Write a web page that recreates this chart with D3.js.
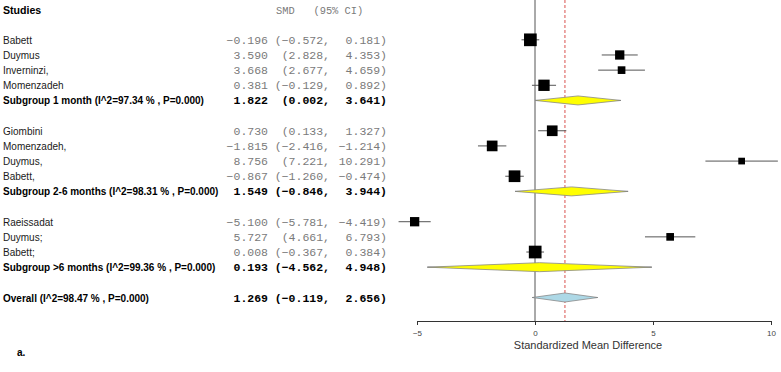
<!DOCTYPE html>
<html>
<head>
<meta charset="utf-8">
<script src="https://cdn.jsdelivr.net/npm/d3@7"></script>
<style>
  html, body { margin: 0; padding: 0; background: #fff; }
  svg { display: block; }
  .name { font-family: "Liberation Sans", Arial, sans-serif; font-size: 10px; fill: #1a1a1a; }
  .bold { font-weight: bold; fill: #000; }
  .num { font-family: "Liberation Mono", "Courier New", monospace; font-size: 11.5px; fill: #7a7a7a; }
  .num.sum { font-weight: bold; fill: #000; }
</style>
</head>
<body>
<div id="chart"></div>
<script>
// study-level results, one inner list per subgroup
const groupNames = ["1 month", "2-6 months", ">6 months"];
const studyNames = [
    ["Babett", "Duymus", "Inverninzi,", "Momenzadeh"],
    ["Giombini", "Momenzadeh,", "Duymus,", "Babett,"],
    ["Raeissadat", "Duymus;", "Babett;"]
];
const studySMD = [
    [-0.196, 3.590, 3.668, 0.381],
    [0.730, -1.815, 8.756, -0.867],
    [-5.100, 5.727, 0.008]
];
const studyLower = [
    [-0.572, 2.828, 2.677, -0.129],
    [0.133, -2.416, 7.221, -1.260],
    [-5.781, 4.661, -0.367]
];
const studyUpper = [
    [0.181, 4.353, 4.659, 0.892],
    [1.327, -1.214, 10.291, -0.474],
    [-4.419, 6.793, 0.384]
];
// approximate % weights (read from the square sizes)
const studyWeight = [
    [14.0, 7.5, 5.1, 11.1],
    [9.9, 9.9, 3.9, 11.9],
    [7.5, 5.1, 14.0]
];

// subgroup summaries
const subgroupI2 = ["97.34", "98.31", "99.36"];
const subgroupP = ["0.000", "0.000", "0.000"];
const subgroupSMD = [1.822, 1.549, 0.193];
const subgroupLower = [0.002, -0.846, -4.562];
const subgroupUpper = [3.641, 3.944, 4.948];

// overall summary
const overallI2 = "98.47";
const overallP = "0.000";
const overallSMD = 1.269;
const overallLower = -0.119;
const overallUpper = 2.656;

const xTicks = [-5, 0, 5, 10];
const xDomain = [-5, 10];

// build the row list (blank row after each block)
const rows = [];
let slot = 2;
groupNames.forEach((g, gi) => {
    studyNames[gi].forEach((n, si) => {
        rows.push({type: "study", label: n, slot: slot++,
            est: studySMD[gi][si], lo: studyLower[gi][si], hi: studyUpper[gi][si], w: studyWeight[gi][si]});
    });
    rows.push({type: "subgroup", label: `Subgroup ${g} (I^2=${subgroupI2[gi]} % , P=${subgroupP[gi]})`, slot: slot++,
        est: subgroupSMD[gi], lo: subgroupLower[gi], hi: subgroupUpper[gi]});
    slot++;
});
rows.push({type: "overall", label: `Overall (I^2=${overallI2} % , P=${overallP})`, slot: slot,
    est: overallSMD, lo: overallLower, hi: overallUpper});

const W = 781, H = 372;
const svg = d3.select("#chart").append("svg").attr("width", W).attr("height", H);

const y = d3.scaleLinear().domain([0, 19]).range([9.5, 297.5]);
const x = d3.scaleLinear().domain(xDomain).range([417, 771]);
const side = d3.scaleSqrt().domain([0, 14]).range([0, 12.7]);
const fmt = d3.format(".3f");
const axisY = 321;

// header
svg.append("text").attr("class", "name bold").attr("x", 3).attr("y", y(0) + 4)
    .style("font-size", "10.6px").text("Studies");
svg.append("text").attr("class", "num").attr("x", 276).attr("y", y(0) + 4)
    .style("font-size", "10.4px").attr("xml:space", "preserve").text("SMD   (95% CI)");

// text columns
const txt = svg.append("g").selectAll("g").data(rows).join("g")
    .attr("transform", d => `translate(0,${y(d.slot) + 4})`);
txt.append("text").attr("class", d => d.type === "study" ? "name" : "name bold")
    .attr("x", 3).text(d => d.label);
txt.append("text").attr("class", d => d.type === "study" ? "num" : "num sum")
    .attr("x", 268).attr("text-anchor", "end").text(d => fmt(d.est));
txt.append("text").attr("class", d => d.type === "study" ? "num" : "num sum")
    .attr("x", 330).attr("text-anchor", "end").text(d => `(${fmt(d.lo)},`);
txt.append("text").attr("class", d => d.type === "study" ? "num" : "num sum")
    .attr("x", 387).attr("text-anchor", "end").text(d => `${fmt(d.hi)})`);

// reference lines
svg.append("line").attr("x1", x(0)).attr("x2", x(0)).attr("y1", 0).attr("y2", axisY)
    .attr("stroke", "#555").attr("stroke-width", 1);
svg.append("line").attr("x1", x(overallSMD)).attr("x2", x(overallSMD)).attr("y1", 0).attr("y2", axisY)
    .attr("stroke", "#d9534f").attr("stroke-width", 1).attr("stroke-dasharray", "3,2");

// studies: CI line + weighted square
const studies = rows.filter(d => d.type === "study");
svg.append("g").selectAll("line").data(studies).join("line")
    .attr("x1", d => x(d.lo)).attr("x2", d => x(d.hi))
    .attr("y1", d => y(d.slot)).attr("y2", d => y(d.slot))
    .attr("stroke", "#555").attr("stroke-width", 1);
svg.append("g").selectAll("rect").data(studies).join("rect")
    .attr("x", d => x(d.est) - side(d.w) / 2)
    .attr("y", d => y(d.slot) - side(d.w) / 2)
    .attr("width", d => side(d.w)).attr("height", d => side(d.w))
    .attr("fill", "#000");

// pooled diamonds
const pooled = rows.filter(d => d.type !== "study");
svg.append("g").selectAll("line").data(pooled).join("line")
    .attr("x1", d => x(d.lo)).attr("x2", d => x(d.hi))
    .attr("y1", d => y(d.slot)).attr("y2", d => y(d.slot))
    .attr("stroke", "#777").attr("stroke-width", 1);
svg.append("g").selectAll("path").data(pooled).join("path")
    .attr("d", d => {
        const cy = y(d.slot), h = 4.5;
        return `M${x(d.lo)},${cy}L${x(d.est)},${cy - h}L${x(d.hi)},${cy}L${x(d.est)},${cy + h}Z`;
    })
    .attr("fill", d => d.type === "overall" ? "#add8e6" : "#ffff00")
    .attr("stroke", "#888").attr("stroke-width", 0.8);

// x axis
const axis = svg.append("g").attr("transform", `translate(0,${axisY})`)
    .call(d3.axisBottom(x).tickValues(xTicks).tickSize(4).tickPadding(5).tickFormat(d3.format("d")));
axis.select(".domain").attr("stroke", "#333");
axis.selectAll(".tick line").attr("stroke", "#333");
axis.selectAll(".tick text").attr("fill", "#444")
    .style("font-family", "'Liberation Sans', Arial, sans-serif").style("font-size", "8px");

svg.append("text").attr("x", 588).attr("y", 349).attr("text-anchor", "middle")
    .style("font-family", "'Liberation Sans', Arial, sans-serif").style("font-size", "11px").attr("fill", "#333")
    .text("Standardized Mean Difference");

svg.append("text").attr("class", "name bold").attr("x", 17).attr("y", 356).text("a.");
</script>
</body>
</html>
